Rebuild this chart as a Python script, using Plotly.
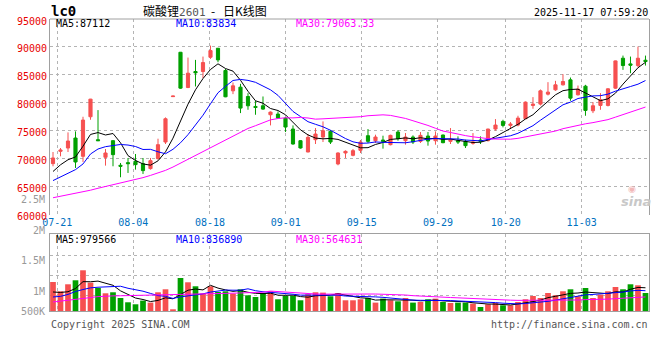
import plotly.graph_objects as go

# ---------------- data ----------------
opens = [69107, 71310, 71905, 73690, 70417, 77500, 73393, 70238, 73214, 68810,
         69286, 69524, 69107, 68214, 70000, 72976, 81100, 89048, 82738, 85595,
         85595, 88155, 89762, 85774, 82143, 82798, 81131, 79345, 79464, 77857,
         77976, 77262, 75298, 73214, 71190, 73393, 73869, 74881, 69048, 71012,
         70595, 71488, 74107, 73214, 73333, 72500, 74762, 73214, 73869, 73095,
         74048, 73214, 74226, 73095, 73214, 73095, 72738, 73333, 73214, 75298,
         76667, 75952, 76012, 77143, 79524, 79762, 81548, 82321, 83214, 84107,
         81429, 82976, 78571, 79524, 79524, 82619, 87976, 86964, 86667, 87619]
highs = [71190, 71900, 74700, 74880, 77500, 80700, 78690, 71727, 73300, 69226,
         70119, 70833, 70119, 70119, 73571, 77381, 81250, 89100, 88095, 87679,
         88274, 90238, 89800, 86071, 83631, 83393, 81726, 80357, 81131, 78452,
         78452, 77381, 75952, 73300, 74405, 75476, 76667, 75119, 71131, 71488,
         71726, 73333, 75298, 74286, 74107, 74286, 75119, 74583, 74167, 74762,
         74762, 74881, 74300, 75476, 73988, 73393, 74583, 73988, 75357, 77083,
         76964, 76548, 77679, 80238, 81012, 82381, 83690, 83929, 85119, 84524,
         83095, 83214, 80119, 81726, 82619, 87560, 88452, 88274, 90060, 88452]
lows = [68630, 70420, 71190, 68330, 69405, 76965, 73214, 68750, 68631, 66667,
        67440, 68036, 67262, 68036, 69821, 72619, 81050, 82500, 82619, 82917,
        84405, 87857, 87262, 81000, 81548, 78155, 78750, 77857, 78750, 75952,
        77143, 74762, 72500, 71800, 71150, 72619, 72976, 72619, 68810, 70119,
        70417, 71012, 72798, 72798, 71786, 72381, 73214, 72500, 72619, 72798,
        72321, 72500, 72750, 72619, 72619, 71905, 72500, 72619, 73095, 75000,
        75595, 75298, 75774, 77143, 78929, 79524, 81310, 82143, 83095, 80357,
        81310, 77679, 78155, 78750, 79345, 82500, 85893, 85298, 86310, 86667]
closes = [70120, 71550, 73155, 69405, 76906, 80655, 73214, 71012, 70714, 68631,
          69107, 68929, 67857, 69643, 72500, 77143, 81200, 82619, 85298, 85357,
          87202, 89345, 87679, 81071, 83036, 79048, 79464, 79167, 78869, 78333,
          77262, 75655, 72619, 71905, 73810, 74405, 75000, 72976, 71012, 71310,
          71429, 72976, 73095, 73869, 73095, 74167, 73571, 73869, 72976, 74167,
          73155, 74048, 72857, 73333, 72976, 72321, 72976, 73095, 75298, 76012,
          75952, 76190, 77262, 80119, 79762, 82143, 81905, 83214, 83810, 80833,
          82440, 78631, 79464, 80536, 82500, 87500, 86667, 86726, 87976, 87381]
volumes = [1189000, 808000, 1095000, 1259000, 1669000, 1164000, 943000, 726000, 767000, 533000,
           357000, 275000, 426000, 344000, 767000, 890000, 70000, 1353000, 1177000, 1013000,
           713000, 1013000, 779000, 808000, 713000, 890000, 644000, 574000, 738000, 808000,
           480000, 615000, 615000, 439000, 685000, 767000, 754000, 603000, 738000, 439000,
           439000, 480000, 533000, 344000, 508000, 439000, 398000, 533000, 344000, 369000,
           480000, 508000, 369000, 328000, 344000, 344000, 303000, 164000, 275000, 328000,
           234000, 234000, 369000, 480000, 615000, 533000, 738000, 644000, 808000, 890000,
           603000, 943000, 533000, 672000, 808000, 984000, 890000, 1095000, 1054000, 738000]

# moving-average values at the left edge (their earlier history is off-chart)
ma5_head = [67700, 68900, 69800, 70300]
ma10_head = [66071, 66667, 67381, 68036, 69048, 70833, 71726, 72143, 72321]
ma30_head = [63000, 63250, 63550, 63800, 64050, 64350, 64700, 65000, 65350, 65700,
             66000, 66300, 66600, 67000, 67400, 67900, 68500, 69200, 69900, 70600,
             71300, 72000, 72700, 73400, 74100, 74800, 75400, 75900, 76400]
vma5_head = [780000, 760000, 790000, 920000]
vma10_head = [575000, 600000, 680000, 800000, 880000, 950000, 975000, 985000, 1000000]
vma30_head = [370000, 400000, 430000, 470000, 510000, 550000, 590000, 615000, 620000, 625000,
              630000, 635000, 640000, 645000, 650000, 655000, 660000, 665000, 670000, 680000,
              690000, 700000, 710000, 720000, 730000, 740000, 750000, 760000, 770000]

tick_labels = ["07-21", "08-04", "08-18", "09-01", "09-15", "09-29", "10-20", "11-03"]
tick_pos = [0.57, 10.71, 20.93, 31.03, 41.16, 51.33, 60.36, 70.49]
price_ticks = [60000, 65000, 70000, 75000, 80000, 85000, 90000, 95000]

title_name = "碳酸锂"
title_code = "2601"
title_kind = "日K线图"
symbol = "lc0"
timestamp = "2025-11-17 07:59:20"
price_ma_text = ["MA5:87112", "MA10:83834", "MA30:79063.33"]
vol_ma_text = ["MA5:979566", "MA10:836890", "MA30:564631"]
vol_labels = ["2.5M", "2M", "1.5M", "1M", "500K"]


def moving_average(values, n, head):
    out = list(head)
    for i in range(len(head), len(values)):
        out.append(sum(values[i - n + 1:i + 1]) / n)
    return out


ma5 = moving_average(closes, 5, ma5_head)
ma10 = moving_average(closes, 10, ma10_head)
ma30 = moving_average(closes, 30, ma30_head)
vma5 = moving_average(volumes, 5, vma5_head)
vma10 = moving_average(volumes, 10, vma10_head)
vma30 = moving_average(volumes, 30, vma30_head)

RED = "#f65050"
GREEN = "#00a000"
GRID = "#b4b4b4"
BORDER = "#a0a0a0"
MONO = "DejaVu Sans Mono"

x = list(range(len(closes)))
bar_colors = [RED if c >= o else GREEN for o, c in zip(opens, closes)]

fig = go.Figure()
fig.add_trace(go.Candlestick(
    x=x, open=opens, high=highs, low=lows, close=closes,
    increasing=dict(line=dict(color=RED, width=1), fillcolor=RED),
    decreasing=dict(line=dict(color=GREEN, width=1), fillcolor=GREEN),
    whiskerwidth=0, xaxis="x", yaxis="y", hoverinfo="skip", showlegend=False))
for series, col in ((ma5, "#000000"), (ma10, "#0000ff"), (ma30, "#ff00ff")):
    fig.add_trace(go.Scatter(x=x, y=series, mode="lines", line=dict(color=col, width=1),
                             xaxis="x", yaxis="y", hoverinfo="skip", showlegend=False))

fig.add_trace(go.Bar(x=x, y=volumes, marker=dict(color=bar_colors, line=dict(width=0)),
                     width=0.76, xaxis="x2", yaxis="y2", hoverinfo="skip", showlegend=False))
for series, col in ((vma5, "#000000"), (vma10, "#0000ff"), (vma30, "#ff00ff")):
    fig.add_trace(go.Scatter(x=x, y=series, mode="lines", line=dict(color=col, width=1),
                             xaxis="x2", yaxis="y2", hoverinfo="skip", showlegend=False))

# plot-area geometry (pixels)
L, R, T, B = 50, 649, 19, 311
W, H = R - L, B - T


def px(xp):
    return (xp - L) / W


def py(yp):
    return (B - yp) / H


main_dom = [py(214.5), 1]
vol_dom = [0, py(234.3)]
vol_top = 76.7 * 41000
xr = [-0.4, 79.47]

fig.update_layout(
    width=660, height=360,
    margin=dict(l=L, r=660 - R, t=T, b=360 - B),
    paper_bgcolor="white", plot_bgcolor="white",
    font=dict(family=MONO, size=10, color="black"),
    boxgap=0.4, bargap=0.2,
    xaxis=dict(domain=[0, 1], range=xr, anchor="y", tickvals=tick_pos, ticktext=tick_labels,
               tickfont=dict(color="#0070c0", size=10, family=MONO), ticks="",
               showgrid=True, gridcolor=GRID, griddash="dot", gridwidth=1,
               showline=False, zeroline=False, rangeslider=dict(visible=False), fixedrange=True),
    yaxis=dict(domain=main_dom, range=[60000, 95000], tickvals=price_ticks,
               ticktext=[str(v) for v in price_ticks],
               tickfont=dict(color="#e80000", size=10, family=MONO), ticks="",
               ticklabelshift=2,
               showgrid=True, gridcolor=GRID, griddash="dot", gridwidth=1,
               showline=True, mirror=True, linecolor=BORDER, linewidth=1, zeroline=False),
    xaxis2=dict(domain=[0, 1], range=xr, anchor="y2", tickvals=tick_pos, showticklabels=False,
                ticks="", showgrid=True, gridcolor=GRID, griddash="dot", gridwidth=1,
                showline=True, mirror=True, linecolor=BORDER, linewidth=1, zeroline=False),
    yaxis2=dict(domain=vol_dom, range=[0, vol_top], anchor="x2",
                tickvals=[627000, 1447000, 2267000], showticklabels=False, ticks="",
                showgrid=True, gridcolor=GRID, griddash="dot", gridwidth=1,
                showline=True, mirror=True, linecolor=BORDER, linewidth=1, zeroline=False),
)

# solid top border of the price panel
fig.add_shape(type="line", xref="paper", yref="paper", x0=0, x1=1, y0=1, y1=1,
              line=dict(color=BORDER, width=1))

ann = []


def text(t, xp, yp, color="black", size=10, anchor="left", family=MONO):
    ann.append(dict(text=t, x=px(xp), y=py(yp), xref="paper", yref="paper",
                    xanchor=anchor, yanchor="middle", showarrow=False,
                    font=dict(color=color, size=size, family=family)))


text("<b>" + symbol + "</b>", 49, 11, size=14)
text(title_name + "<span style='color:#555555;font-family:DejaVu Sans Mono;font-size:11px'>"
     + title_code + "</span>&nbsp;&nbsp;-&nbsp;&nbsp;&nbsp;" + title_kind, 141, 11, size=12,
     family="Noto Sans CJK SC")
text(timestamp, 650, 12, anchor="right")
for t, xp, col in zip(price_ma_text, (54, 174, 294), ("#000000", "#0000ff", "#ff00ff")):
    text(t, xp, 24, color=col)
for t, xp, col in zip(vol_ma_text, (54, 174, 294), ("#000000", "#0000ff", "#ff00ff")):
    text(t, xp, 239, color=col)
for t, yp in zip(vol_labels, (200, 230, 260, 291, 311)):
    text(t, 47, yp, color="#999999", anchor="right")
text("Copyright 2025 SINA.COM", 49, 324, color="#555555")
text("http://finance.sina.com.cn", 650, 324, color="#555555", anchor="right")
text("<i><b>sina</b></i>", 636, 201, color="#c8c8c8", size=13, anchor="center",
     family="DejaVu Sans")
text("◉", 632, 189, color="#f2b8b8", size=9, anchor="center", family="DejaVu Sans")

fig.update_layout(annotations=ann)
fig.write_html("out.html", config={"displayModeBar": False},
               post_script="document.body.style.margin='0';")
